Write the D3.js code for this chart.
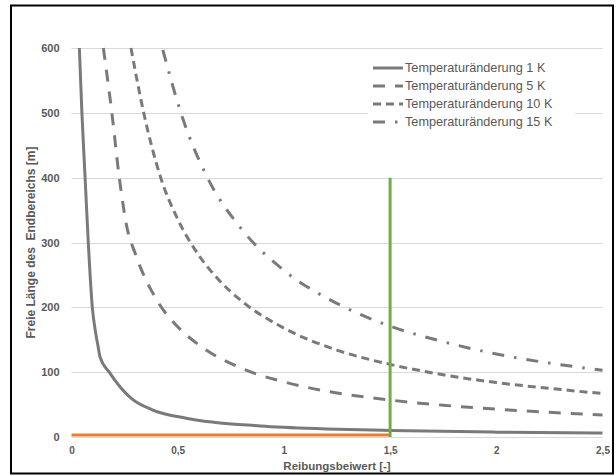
<!DOCTYPE html>
<html>
<head>
<meta charset="utf-8">
<script src="https://cdn.jsdelivr.net/npm/d3@7"></script>
<style>
  html, body { margin: 0; padding: 0; background: #fff; }
  svg { display: block; font-family: "Liberation Sans", Arial, sans-serif; }
</style>
</head>
<body>
<svg id="chart" width="616" height="476"></svg>
<script>
// ---- Data ----
const xTicks = [0, 0.5, 1, 1.5, 2, 2.5];
const yTicks = [0, 100, 200, 300, 400, 500, 600];

const seriesNames = ["Temperaturänderung 1 K", "Temperaturänderung 5 K", "Temperaturänderung 10 K", "Temperaturänderung 15 K"];

const mu1K  = [0.037, 0.049, 0.064, 0.079, 0.098, 0.114, 0.125, 0.134, 0.18, 0.28, 0.38, 0.54, 0.89, 1.2, 1.5, 2.0, 2.5];
const len1K = [600,   500,   400,   300,   200,   160,   140,   124,   99,   60,   42,   29,   17,   12.5, 10,  7.5, 6];

const mu5K  = [0.15, 0.19, 0.225, 0.26, 0.3, 0.4, 0.5, 0.6, 0.8, 1.0, 1.25, 1.5, 1.75, 2.0, 2.25, 2.5];
const len5K = [600,  500,  400,   325,  283, 212, 170, 142, 106, 85,  68,   57,  49,   43,  38,   34];

const mu10K  = [0.28, 0.34, 0.42, 0.5, 0.6, 0.7, 0.8, 1.0, 1.25, 1.5, 1.75, 2.0, 2.25, 2.5];
const len10K = [600,  500,  400,  336, 280, 240, 210, 168, 134,  112, 96,   84,  75,   67];

const mu15K  = [0.43, 0.52, 0.64, 0.8, 1.0, 1.25, 1.5, 1.75, 2.0, 2.25, 2.5];
const len15K = [597,  495,  400,  321, 257, 206,  171, 147,  128, 114,  103];

const orangeX = [0, 1.5];
const orangeY = [3, 3];
const greenX  = [1.5, 1.5];
const greenY  = [0, 400];

// ---- Layout ----
const svg = d3.select("#chart");
const plot = { left: 71.5, right: 602.5, top: 48, bottom: 437 };

const x = d3.scaleLinear().domain([0, 2.5]).range([plot.left, plot.right]);
const y = d3.scaleLinear().domain([0, 600]).range([plot.bottom, plot.top]);

const grey = "#7a7a7a";
const textCol = "#595959";

// outer frame
svg.append("rect")
  .attr("x", 11).attr("y", 5.5).attr("width", 602).attr("height", 468)
  .attr("fill", "#fff").attr("stroke", "#000").attr("stroke-width", 2);

// gridlines
svg.append("g").selectAll("line").data(yTicks).join("line")
  .attr("x1", plot.left).attr("x2", plot.right)
  .attr("y1", d => Math.round(y(d)) + 0.5).attr("y2", d => Math.round(y(d)) + 0.5)
  .attr("stroke", "#d9d9d9").attr("stroke-width", 1);

// y axis labels
const yAxis = d3.axisLeft(y).tickValues(yTicks).tickSize(0).tickPadding(0).tickFormat(d3.format("d"));
const gy = svg.append("g").attr("transform", `translate(${plot.left - 12},0)`).call(yAxis);
gy.select(".domain").remove();
gy.selectAll("text").attr("fill", textCol).attr("font-size", 11).attr("font-weight", "bold")
  .attr("font-family", "Liberation Sans, Arial, sans-serif");

// x axis labels
const fmtX = d => String(d).replace(".", ",");
const xAxis = d3.axisBottom(x).tickValues(xTicks).tickSize(0).tickPadding(0).tickFormat(fmtX);
const gx = svg.append("g").attr("transform", `translate(0,${plot.bottom + 10})`).call(xAxis);
gx.select(".domain").remove();
gx.selectAll("text").attr("fill", textCol).attr("font-size", 10).attr("font-weight", "bold")
  .attr("font-family", "Liberation Sans, Arial, sans-serif");

// axis titles
svg.append("text")
  .attr("x", (plot.left + plot.right) / 2).attr("y", 470)
  .attr("text-anchor", "middle").attr("fill", textCol)
  .attr("font-size", 11.5).attr("font-weight", "bold")
  .text("Reibungsbeiwert [-]");

svg.append("text")
  .attr("transform", `translate(35,${(plot.top + plot.bottom) / 2}) rotate(-90)`)
  .attr("text-anchor", "middle").attr("fill", textCol)
  .attr("font-size", 12).attr("font-weight", "bold")
  .attr("xml:space", "preserve")
  .style("white-space", "pre")
  .text("Freie Länge des  Endbereichs [m]");

// series
const line = d3.line().x(d => x(d[0])).y(d => y(d[1])).curve(d3.curveMonotoneX);
const series = [
  { mu: mu1K,  len: len1K,  dash: null,           width: 3 },
  { mu: mu5K,  len: len5K,  dash: "12,10",        width: 3 },
  { mu: mu10K, len: len10K, dash: "8,5",          width: 3 },
  { mu: mu15K, len: len15K, dash: "12,10,2.5,10", width: 3 }
];

svg.append("clipPath").attr("id", "clip").append("rect")
  .attr("x", plot.left).attr("y", plot.top - 1)
  .attr("width", plot.right - plot.left + 4).attr("height", plot.bottom - plot.top + 2);

const gs = svg.append("g").attr("clip-path", "url(#clip)");
series.forEach(s => {
  const pts = s.mu.map((m, i) => [m, s.len[i]]);
  gs.append("path").attr("d", line(pts))
    .attr("fill", "none").attr("stroke", grey).attr("stroke-width", s.width)
    .attr("stroke-dasharray", s.dash);
});

// orange horizontal line
const plain = d3.line().x(d => x(d[0])).y(d => y(d[1]));
svg.append("path").attr("d", plain(orangeX.map((v, i) => [v, orangeY[i]])))
  .attr("fill", "none").attr("stroke", "#ed7d31").attr("stroke-width", 3);

// green vertical line
svg.append("path").attr("d", plain(greenX.map((v, i) => [v, greenY[i]])))
  .attr("fill", "none").attr("stroke", "#70ad47").attr("stroke-width", 3);

// legend
const lg = svg.append("g");
lg.append("rect").attr("x", 368).attr("y", 58).attr("width", 207).attr("height", 75).attr("fill", "#fff");
series.forEach((s, i) => {
  const yy = 68 + i * 18;
  lg.append("line").attr("x1", 373).attr("x2", 403).attr("y1", yy).attr("y2", yy)
    .attr("stroke", grey).attr("stroke-width", s.width).attr("stroke-dasharray", s.dash);
  lg.append("text").attr("x", 405).attr("y", yy).attr("dy", "0.35em")
    .attr("fill", textCol).attr("font-size", 12.7).text(seriesNames[i]);
});
</script>
</body>
</html>
